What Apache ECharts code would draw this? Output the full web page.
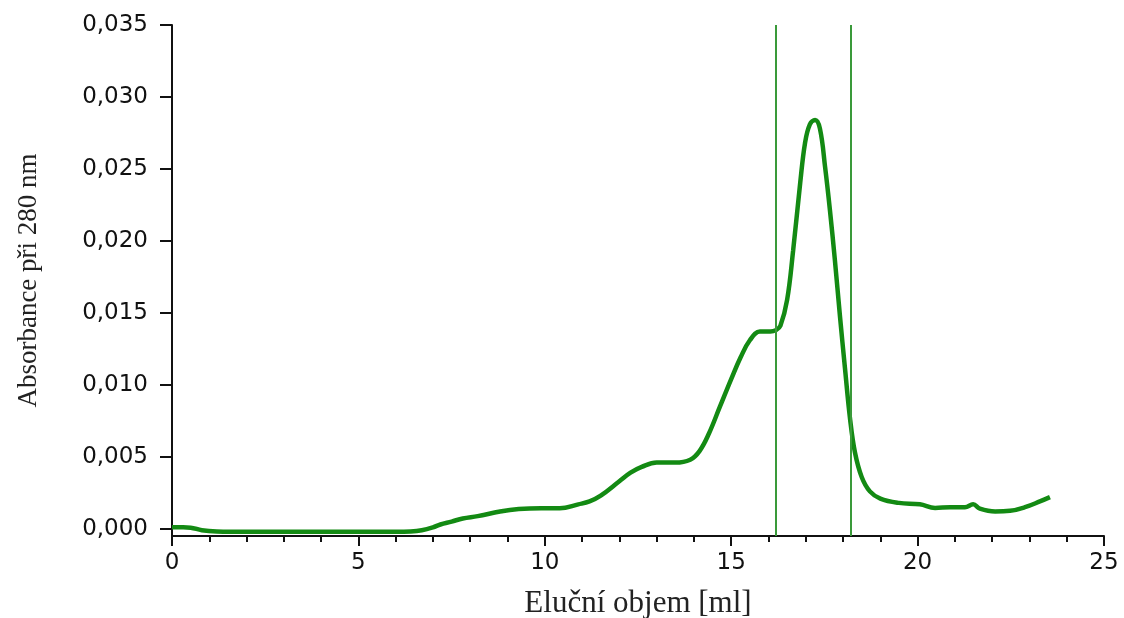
<!DOCTYPE html>
<html>
<head>
<meta charset="utf-8">
<title>Eluční profil</title>
<script src="https://cdn.jsdelivr.net/npm/echarts@6/dist/echarts.min.js"></script>
<style>
  html, body { margin: 0; padding: 0; background: #fff; }
  #chart { width: 1124px; height: 618px; }
</style>
</head>
<body>
<div id="chart"></div>
<script>
// elution volume [ml]
const elutionMl = [
  0, 0.3, 0.5, 0.8, 1.2, 2, 3, 4, 5, 6, 6.4, 6.7, 7.0, 7.2, 7.5, 7.8, 8.2, 8.8, 9.3, 9.9,
  10.4, 10.9, 11.2, 11.5, 12.0, 12.3, 12.6, 13.0, 13.5, 13.9, 14.15, 14.4, 14.7, 15.0, 15.25,
  15.5, 15.77, 16.05, 16.2, 16.32, 16.5, 16.66, 16.85, 16.98, 17.11, 17.25, 17.38, 17.52,
  17.65, 17.78, 17.92, 18.05, 18.19, 18.32, 18.5, 18.72, 19.0, 19.5, 20.06, 20.47, 20.87,
  21.27, 21.49, 21.67, 22.08, 22.48, 22.88, 23.28, 23.55
]
// absorbance at 280 nm
const absorbance = [
  0.0001, 0.0001, 0.00008, -0.0001, -0.00018, -0.0002, -0.0002, -0.0002, -0.0002, -0.0002,
  -0.00018, -0.0001, 0.0001, 0.0003, 0.0005, 0.00072, 0.00088, 0.0012, 0.00137, 0.00143,
  0.00143, 0.0017, 0.0019, 0.0023, 0.0033, 0.0039, 0.0043, 0.0046, 0.0046, 0.0048, 0.0054,
  0.0066, 0.0085, 0.0104, 0.0119, 0.0131, 0.0137, 0.0137, 0.0138, 0.0141, 0.0159, 0.0193,
  0.024, 0.0268, 0.0281, 0.0284, 0.0278, 0.0251, 0.0221, 0.0187, 0.0147, 0.0112, 0.0076,
  0.0053, 0.0036, 0.0026, 0.0021, 0.0018, 0.0017, 0.00145, 0.0015, 0.0015, 0.0017, 0.0014,
  0.0012, 0.00125, 0.0015, 0.0019, 0.0022
]
// fraction boundaries (vertical lines)
const fractionLines = [16.2, 18.2]
// y tick values
const yTicks = [0, 0.005, 0.01, 0.015, 0.02, 0.025, 0.03, 0.035]

const chart = echarts.init(document.getElementById('chart'))

const option = {
  animation: false,
  grid: {
    left: 172,
    right: 20,
    top: 25,
    bottom: 82,
    outerBoundsMode: 'none'
  },
  xAxis: {
    type: 'value',
    min: 0,
    max: 25,
    interval: 5,
    name: 'Eluční objem [ml]',
    nameLocation: 'middle',
    nameGap: 52,
    nameTextStyle: {
      fontFamily: 'Liberation Serif',
      fontSize: 31,
      color: '#222'
    },
    axisLine: { onZero: false, lineStyle: { color: '#111', width: 2 } },
    axisTick: { length: 10, lineStyle: { color: '#111', width: 2 } },
    minorTick: { show: true, splitNumber: 5, length: 6, lineStyle: { color: '#111', width: 2 } },
    axisLabel: {
      fontFamily: 'DejaVu Sans',
      fontSize: 23,
      color: '#111',
      margin: 16
    },
    splitLine: { show: false }
  },
  yAxis: {
    type: 'value',
    min: -0.0005,
    max: 0.035,
    name: 'Absorbance při 280 nm',
    nameLocation: 'middle',
    nameGap: 130,
    nameTextStyle: {
      fontFamily: 'Liberation Serif',
      fontSize: 27,
      color: '#222'
    },
    axisLine: { show: true, lineStyle: { color: '#111', width: 2 } },
    axisTick: {
      show: true,
      length: 12,
      customValues: yTicks,
      lineStyle: { color: '#111', width: 2 }
    },
    axisLabel: {
      customValues: yTicks,
      fontFamily: 'DejaVu Sans',
      fontSize: 23,
      color: '#111',
      margin: 24,
      formatter: function (v) {
        return v.toFixed(3).replace('.', ',')
      }
    },
    splitLine: { show: false }
  },
  series: [
    {
      name: 'A280',
      type: 'line',
      data: elutionMl.map((x, i) => [x, absorbance[i]]),
      smooth: 0.4,
      symbol: 'none',
      lineStyle: { color: '#138a13', width: 4.5 },
      markLine: {
        silent: true,
        symbol: ['none', 'none'],
        label: { show: false },
        lineStyle: { color: '#3a9a3a', width: 2, type: 'solid' },
        data: fractionLines.map(v => ({ xAxis: v }))
      }
    }
  ]
}

chart.setOption(option)
</script>
</body>
</html>
